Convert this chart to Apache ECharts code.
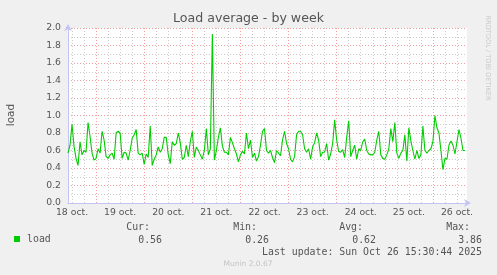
<!DOCTYPE html>
<html>
<head>
<meta charset="utf-8">
<script src="https://cdn.jsdelivr.net/npm/echarts@6/dist/echarts.min.js"></script>
<style>
html,body{margin:0;padding:0;background:#f0f0f0;}
#chart{width:497px;height:275px;}
</style>
</head>
<body>
<div id="chart"></div>
<script>
// ---- data ----
const title = 'Load average - by week';
const yAxisName = 'load';
const seriesName = 'load';
const dayLabels = ['18 oct.','19 oct.','20 oct.','21 oct.','22 oct.','23 oct.','24 oct.','25 oct.','26 oct.'];
const startHour = 10;      // first sample: 18 oct. 10:00 (hours since 18 oct. 00:00)
const hourCount = 200;     // hourly slots shown on the axis
const yTicks = [0.0,0.2,0.4,0.6,0.8,1.0,1.2,1.4,1.6,1.8,2.0];
// hourly load samples
const load = [
 0.57,0.66,0.90,0.65,0.51,0.43,0.70,0.55,0.60,0.58,
 0.92,0.76,0.57,0.49,0.51,0.62,0.57,0.82,0.72,0.53,
 0.51,0.55,0.57,0.50,0.80,0.82,0.80,0.51,0.58,0.57,
 0.49,0.60,0.74,0.78,0.84,0.57,0.55,0.57,0.44,0.56,
 0.52,0.88,0.43,0.50,0.55,0.64,0.58,0.62,0.75,0.75,
 0.55,0.45,0.70,0.66,0.68,0.80,0.69,0.50,0.52,0.66,
 0.53,0.70,0.82,0.52,0.64,0.60,0.55,0.50,0.60,0.85,
 0.55,0.62,1.93,0.49,0.60,0.75,0.86,0.65,0.58,0.58,
 0.55,0.75,0.69,0.62,0.56,0.47,0.55,0.59,0.56,0.80,
 0.62,0.72,0.52,0.57,0.48,0.53,0.66,0.82,0.85,0.60,
 0.57,0.60,0.52,0.46,0.60,0.57,0.54,0.72,0.82,0.68,
 0.62,0.50,0.47,0.53,0.78,0.82,0.82,0.78,0.62,0.58,
 0.62,0.50,0.64,0.69,0.80,0.72,0.53,0.58,0.58,0.68,
 0.49,0.56,0.68,0.95,0.72,0.59,0.58,0.61,0.52,0.75,
 0.94,0.53,0.60,0.66,0.50,0.62,0.60,0.70,0.73,0.60,
 0.56,0.55,0.55,0.58,0.72,0.82,0.55,0.51,0.50,0.55,
 0.62,0.85,0.70,0.92,0.57,0.51,0.57,0.60,0.78,0.48,
 0.86,0.71,0.60,0.50,0.60,0.51,0.55,0.88,0.60,0.57,
 0.60,0.62,0.70,1.00,0.86,0.80,0.60,0.38,0.51,0.50,
 0.66,0.71,0.66,0.56,0.70,0.84,0.74,0.60,0.60
];
const statHeaders = ['Cur:','Min:','Avg:','Max:'];
const statValues = ['0.56','0.26','0.62','3.86'];
const lastUpdate = 'Last update: Sun Oct 26 15:30:44 2025';
const footer = 'Munin 2.0.67';
const sideText = 'RRDTOOL / TOBI OETIKER';

// ---- build ----
const pad = n => (n < 10 ? '0' : '') + n;
const hours = Array.from({length: hourCount}, (_, i) => startHour + i);
const categories = hours.map(h => dayLabels[Math.floor(h / 24)] + ' ' + pad(h % 24) + ':00');
const hourOf = idx => hours[idx] % 24;

const SANS = 'DejaVu Sans';
const MONO = 'DejaVu Sans Mono';
const TXT = '#555';
const MGRID = 'rgba(235,60,60,0.5)';
const GRID = 'rgba(140,140,140,0.45)';
const AXIS = '#c4c4f4';

const chart = echarts.init(document.getElementById('chart'), null, {renderer: 'canvas'});

const statX = [150, 257, 363, 470];
const valX = [162, 269, 376, 482];
const graphics = [];
statHeaders.forEach((t, i) => graphics.push({type:'text', x: statX[i], y: 227.5,
  style:{text:t, font:'9.9px "' + MONO + '"', fill:TXT, align:'right', verticalAlign:'middle'}}));
statValues.forEach((t, i) => graphics.push({type:'text', x: valX[i], y: 240,
  style:{text:t, font:'9.9px "' + MONO + '"', fill:TXT, align:'right', verticalAlign:'middle'}}));
graphics.push({type:'text', x: 482, y: 252,
  style:{text:lastUpdate, font:'9.9px "' + MONO + '"', fill:TXT, align:'right', verticalAlign:'middle'}});
graphics.push({type:'text', x: 248, y: 264,
  style:{text:footer, font:'7.5px "' + SANS + '"', fill:'#c4c4c4', align:'center', verticalAlign:'middle'}});
graphics.push({type:'text', x: 488, y: 58, rotation: -Math.PI/2,
  style:{text:sideText, font:'6.6px "' + SANS + '"', fill:'#c8c8c8', align:'center', verticalAlign:'middle'}});
graphics.push({type:'text', x: 11, y: 115, rotation: Math.PI/2,
  style:{text:yAxisName, font:'10.5px "' + SANS + '"', fill:TXT, align:'center', verticalAlign:'middle'}});

chart.setOption({
  animation: false,
  backgroundColor: '#f0f0f0',
  title: {
    text: title, left: 'center', top: 12, padding: 0,
    textStyle: {fontFamily: SANS, fontSize: 12.6, fontWeight: 'normal', color: TXT}
  },
  legend: {
    data: [{name: seriesName, icon: 'rect'}],
    left: 14, top: 234, itemWidth: 6, itemHeight: 6, padding: 0, itemGap: 5,
    textStyle: {fontFamily: MONO, fontSize: 9.9, color: TXT, padding: [0,0,0,2]}
  },
  grid: {left: 68, top: 28, width: 399, height: 175, show: true, backgroundColor: '#ffffff', borderWidth: 0},
  xAxis: [{
    type: 'category', data: categories, boundaryGap: false,
    axisLine: {show: true, lineStyle: {color: AXIS, width: 1}, symbol: ['none','arrow'], symbolSize: [6, 7], symbolOffset: [0, 4]},
    axisTick: {show: false},
    axisLabel: {
      interval: idx => hourOf(idx) === 12,
      formatter: v => v.split(' ').slice(0, 2).join(' '),
      fontFamily: SANS, fontSize: 9.3, color: TXT, margin: 5
    },
    splitLine: {show: true, interval: idx => hourOf(idx) % 6 === 0 && hourOf(idx) !== 0,
      lineStyle: {color: GRID, type: [1, 2], width: 1}}
  }, {
    type: 'category', data: categories, boundaryGap: false, gridIndex: 0,
    axisLine: {show: false}, axisTick: {show: false}, axisLabel: {show: false},
    splitLine: {show: true, interval: idx => hourOf(idx) === 0,
      lineStyle: {color: MGRID, type: [1, 2], width: 1}}
  }],
  yAxis: {
    type: 'value', min: yTicks[0], max: yTicks[yTicks.length - 1], interval: yTicks[1] - yTicks[0],
    axisLine: {show: true, lineStyle: {color: AXIS, width: 1}, symbol: ['none','arrow'], symbolSize: [6, 7], symbolOffset: [0, 4]},
    axisTick: {show: false},
    axisLabel: {formatter: v => v.toFixed(1), fontFamily: SANS, fontSize: 9.3, color: TXT, margin: 7},
    splitLine: {show: true, lineStyle: {color: MGRID, type: [1, 2], width: 1}},
    minorTick: {show: false, splitNumber: 2},
    minorSplitLine: {show: true, lineStyle: {color: GRID, type: [1, 2], width: 1}}
  },
  series: [{
    name: seriesName, type: 'line', data: load, xAxisIndex: 0,
    showSymbol: false, symbol: 'none',
    lineStyle: {color: '#00cc00', width: 1.1}, itemStyle: {color: '#00cc00'},
    z: 5
  }],
  graphic: graphics
});
</script>
</body>
</html>
